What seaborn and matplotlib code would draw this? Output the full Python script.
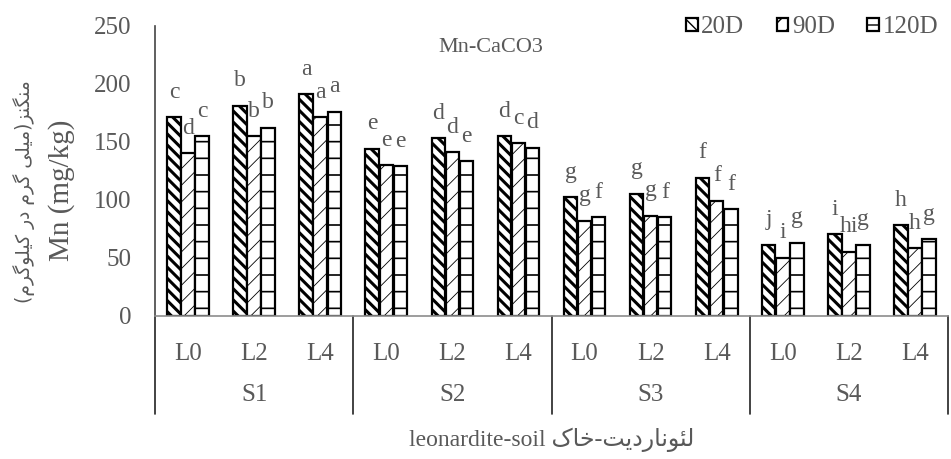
import matplotlib
matplotlib.use("Agg")
import matplotlib.pyplot as plt
import pandas as pd
import seaborn as sns
from matplotlib.patches import Patch
from matplotlib.transforms import blended_transform_factory

# ---- data -----------------------------------------------------------------
soils = ["S1", "S2", "S3", "S4"]
leonardite = ["L0", "L2", "L4"]
periods = ["20D", "90D", "120D"]

mn_20d = [171, 181, 191, 144, 153, 155, 102, 105, 119, 61, 70, 78]
mn_90d = [140, 155, 171, 130, 141, 149, 82, 86, 99, 50, 55, 58]
mn_120d = [155, 162, 176, 129, 133, 145, 85, 85, 92, 63, 61, 66]

letters_20d = ["c", "b", "a", "e", "d", "d", "g", "g", "f", "j", "i", "h"]
letters_90d = ["d", "b", "a", "e", "d", "c", "g", "g", "f", "i", "hi", "h"]
letters_120d = ["c", "b", "a", "e", "e", "d", "f", "f", "f", "g", "g", "g"]

y_ticks = [0, 50, 100, 150, 200, 250]
title_text = "Mn-CaCO3"
ylabel_en = "Mn (mg/kg)"
ylabel_fa = "منگنز(میلی گرم در کیلوگرم)"
xlabel_en = "leonardite-soil"
xlabel_fa = "لئوناردیت-خاک"

# ---- Persian shaping (contextual forms + visual order) ---------------------
FORMS = {  # isolated, final, initial, medial
    "\u0627": ("\uFE8D", "\uFE8E", None, None),
    "\u0626": ("\uFE89", "\uFE8A", "\uFE8B", "\uFE8C"),
    "\u062A": ("\uFE95", "\uFE96", "\uFE97", "\uFE98"),
    "\u062E": ("\uFEA5", "\uFEA6", "\uFEA7", "\uFEA8"),
    "\u062F": ("\uFEA9", "\uFEAA", None, None),
    "\u0631": ("\uFEAD", "\uFEAE", None, None),
    "\u0632": ("\uFEAF", "\uFEB0", None, None),
    "\u0644": ("\uFEDD", "\uFEDE", "\uFEDF", "\uFEE0"),
    "\u0645": ("\uFEE1", "\uFEE2", "\uFEE3", "\uFEE4"),
    "\u0646": ("\uFEE5", "\uFEE6", "\uFEE7", "\uFEE8"),
    "\u0648": ("\uFEED", "\uFEEE", None, None),
    "\u06A9": ("\uFB8E", "\uFB8F", "\uFB90", "\uFB91"),
    "\u06AF": ("\uFB92", "\uFB93", "\uFB94", "\uFB95"),
    "\u06CC": ("\uFBFC", "\uFBFD", "\uFBFE", "\uFBFF"),
}
MIRROR = {"(": ")", ")": "("}


def shape_fa(text):
    out = []
    for i, ch in enumerate(text):
        if ch not in FORMS:
            out.append(ch)
            continue
        iso, fin, ini, med = FORMS[ch]
        prev = text[i - 1] if i > 0 else ""
        nxt = text[i + 1] if i + 1 < len(text) else ""
        j_prev = prev in FORMS and FORMS[prev][2] is not None
        j_next = ini is not None and nxt in FORMS
        if j_prev and j_next:
            out.append(med)
        elif j_prev:
            out.append(fin)
        elif j_next:
            out.append(ini)
        else:
            out.append(iso)
    return "".join(MIRROR.get(c, c) for c in reversed(out))


# ---- table -----------------------------------------------------------------
cats = [f"{s}-{l}" for s in soils for l in leonardite]
series = {"20D": mn_20d, "90D": mn_90d, "120D": mn_120d}
df = pd.DataFrame(
    [(c, p, v) for p in periods for c, v in zip(cats, series[p])],
    columns=["cat", "period", "mn"],
)

# ---- figure ----------------------------------------------------------------
sns.set_style("white")
plt.rcParams["font.family"] = ["Liberation Serif", "DejaVu Sans"]
plt.rcParams["hatch.color"] = "black"

grey = "#595959"
fig = plt.figure(figsize=(9.51, 4.59), dpi=100)
ax = fig.add_axes([155 / 951, 1 - 315.5 / 459, 793 / 951, (315.5 - 26) / 459])

sns.barplot(
    data=df, x="cat", y="mn", hue="period", order=cats, hue_order=periods,
    palette=["white"] * 3, edgecolor="black", linewidth=1.6,
    width=0.64, gap=0.04, legend=False, errorbar=None, ax=ax,
)

hatches = {"20D": "\\\\\\", "90D": "//", "120D": "-"}
hatch_lw = {"20D": 2.2, "90D": 0.6, "120D": 1.2}
letters = {"20D": letters_20d, "90D": letters_90d, "120D": letters_120d}

for cont, p in zip(ax.containers, periods):
    for bar, lab in zip(cont, letters[p]):
        bar.set_hatch(hatches[p])
        if hasattr(bar, "set_hatch_linewidth"):
            bar.set_hatch_linewidth(hatch_lw[p])
        ax.annotate(
            lab, (bar.get_x() + bar.get_width() / 2, bar.get_height()),
            xytext=(0, 14), textcoords="offset points",
            ha="center", va="baseline", fontsize=17, color=grey,
        )

ax.set_ylim(0, 250)
ax.set_xlim(-0.5, len(cats) - 0.5)
ax.set_yticks(y_ticks)
ax.set_yticklabels([str(t) for t in y_ticks])
ax.set_xticks(range(len(cats)))
ax.set_xticklabels(leonardite * len(soils))
ax.tick_params(axis="y", length=0, pad=17, labelsize=18, labelcolor=grey)
ax.tick_params(axis="x", length=0, pad=20, labelsize=18, labelcolor=grey)
ax.set_xlabel("")
ax.set_ylabel("")

for side in ["top", "right"]:
    ax.spines[side].set_visible(False)
ax.spines["left"].set_color("#444444")
ax.spines["bottom"].set_color("#8c8c8c")
ax.spines["left"].set_linewidth(1.2)
ax.spines["bottom"].set_linewidth(1.2)

# two-level category axis: group dividers and soil names
trans = blended_transform_factory(ax.transData, ax.transAxes)
for k in range(len(soils) + 1):
    xb = -0.5 + 3 * k
    ax.plot([xb, xb], [0, -0.34], transform=trans, color="#222222",
            lw=1.2, clip_on=False)
for k, s in enumerate(soils):
    ax.text(1 + 3 * k, -0.275, s, transform=trans, ha="center",
            va="center", fontsize=18, color=grey)

ax.text(0.423, 0.925, title_text, transform=ax.transAxes, ha="center",
        va="center", fontsize=16, color=grey)

handles = [
    Patch(facecolor="white", edgecolor="black", hatch=hatches[p],
          linewidth=1.6, label=p)
    for p in periods
]
ax.legend(handles=handles, loc="center right", bbox_to_anchor=(1.0, 0.995),
          ncol=3, frameon=False, fontsize=18, handlelength=0.45,
          handleheight=0.45, handletextpad=0.15, columnspacing=1.3,
          labelcolor=grey, borderaxespad=0)

fig.text(62 / 951, 1 - 190 / 459, ylabel_en, rotation=90, ha="center",
         va="center", fontsize=21, color=grey)
fig.text(24 / 951, 1 - 192 / 459, shape_fa(ylabel_fa), rotation=90,
         ha="center", va="center", fontsize=13.5, color=grey,
         family=["DejaVu Sans"])
fig.text(551.5 / 951, 1 - 440 / 459,
         xlabel_en + " " + shape_fa(xlabel_fa), ha="center", va="center",
         fontsize=17, color=grey)

fig.savefig("out.png", dpi=100)
